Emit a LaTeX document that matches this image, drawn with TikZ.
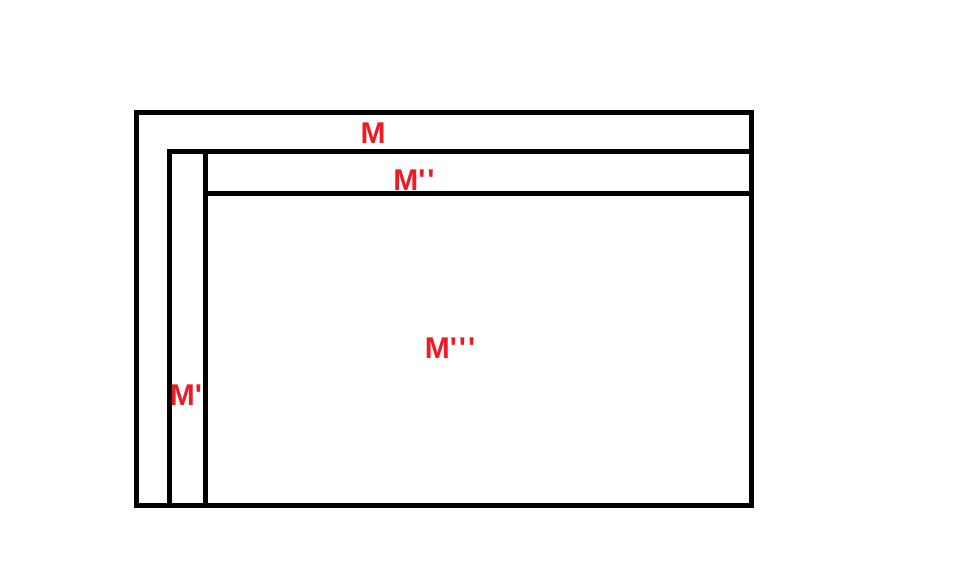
\documentclass[tikz,border=0pt]{standalone}
\usepackage{fontspec}
\newfontfamily\labelfont{Liberation Sans}
\definecolor{labelred}{HTML}{ED1C24}
\usetikzlibrary{positioning}

\begin{document}
\begin{tikzpicture}[
  x=1pt, y=1pt,
  frame/.style = {draw, line width=5pt, line join=miter},
  lab/.style = {text=labelred, font=\labelfont\bfseries\fontsize{30}{31}\selectfont, inner sep=0pt}
]
\useasboundingbox (0,0) rectangle (979,565);

% --- regions
\draw[frame] (136,452) rectangle (751,60);
\draw[frame] (169,413) rectangle (751,60);
\coordinate (stripTop) at (205,413);
\coordinate (stripBot) at (205,60);
\coordinate (barLeft) at (205,371);
\coordinate (barRight) at (751,371);
\draw[frame] (stripTop) -- (stripBot);
\draw[frame] (barLeft) -- (barRight);

% --- labels
\node[lab] (m) at (373,432) {M};
\node[lab] (mtwo) at (414,385) {M'\kern2pt'};
\node[lab] (mthree) at (450,217) {M'\kern2pt'\kern2pt'};
\node[lab] (mone) at (186,170) {M'};

\end{tikzpicture}
\end{document}
